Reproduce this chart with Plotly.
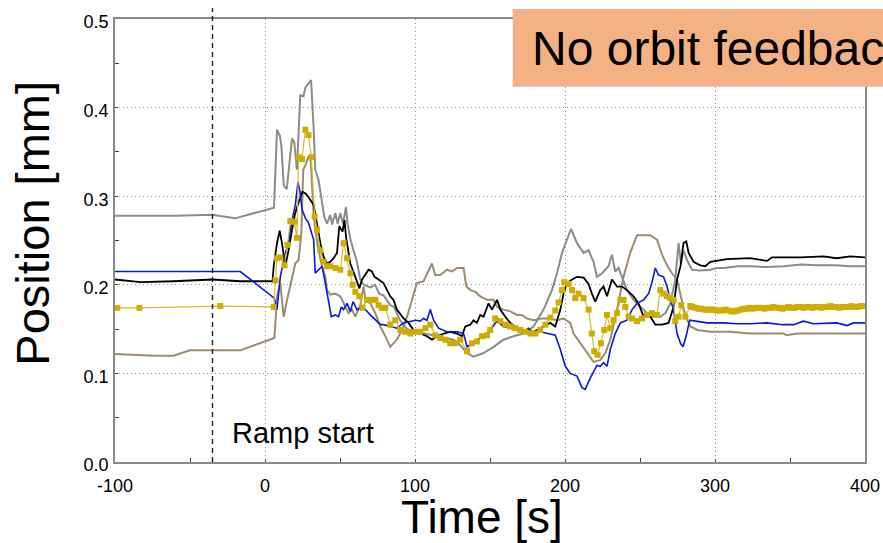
import plotly.graph_objects as go

# ---- orbit position traces, Time [s] vs Position [mm] ----
grey_t = [-100, -60, -35, -20, 6, 8, 10, 11, 12.5, 14.5, 18, 19.5, 21.3, 23.5, 25.7, 27, 29, 30.7,
          32.4, 33.5, 35.7, 38, 39.5, 41.3, 43.5, 44.7, 46.9, 48.4, 50.2, 52, 54, 55, 57, 59, 61.3,
          63.5, 65.7, 70.2, 73.5, 76, 79, 83.5, 86, 90, 94.7, 99, 105, 110, 114.7, 120, 125.7, 130,
          134.7, 139, 145.7, 152.4, 159, 165.7, 172.4, 179, 185.7, 191.3, 194.7, 198, 201.3, 204,
          208, 212.4, 215.7, 219, 221.3, 224.7, 229, 231.3, 233.5, 235.7, 238, 241.3, 245.7, 250.2,
          254.7, 259, 263.5, 266.9, 270.2, 273.5, 275.7, 277.3, 279, 281.3, 284.7, 290, 297, 301,
          306, 315, 324, 335, 346, 357, 368, 380, 390, 400]
grey_y = [0.278, 0.278, 0.279, 0.275, 0.287, 0.375, 0.368, 0.355, 0.312, 0.308, 0.365, 0.361, 0.330,
          0.414, 0.413, 0.423, 0.427, 0.431, 0.378, 0.330, 0.318, 0.292, 0.277, 0.269, 0.279, 0.268,
          0.281, 0.269, 0.281, 0.269, 0.288, 0.269, 0.251, 0.239, 0.226, 0.206, 0.200, 0.197, 0.200,
          0.190, 0.188, 0.177, 0.175, 0.160, 0.150, 0.148, 0.146, 0.144, 0.142, 0.140, 0.138, 0.132,
          0.123, 0.119, 0.123, 0.130, 0.138, 0.142, 0.145, 0.153, 0.172, 0.194, 0.213, 0.236, 0.251,
          0.263, 0.247, 0.236, 0.239, 0.226, 0.209, 0.213, 0.221, 0.234, 0.215, 0.219, 0.209, 0.194,
          0.183, 0.175, 0.168, 0.164, 0.164, 0.168, 0.179, 0.206, 0.247, 0.224, 0.239, 0.228, 0.217,
          0.216, 0.217, 0.219, 0.219, 0.221, 0.221, 0.220, 0.221, 0.223, 0.222, 0.222, 0.221, 0.221]

black_t = [-100, -83, -61, -35, -16.5, 5, 5.8, 8, 9.8, 11.3, 13.5, 15.7, 18, 20, 22.4, 25, 27, 29,
           32.4, 34.7, 36.9, 39, 41.3, 43.5, 45.7, 48, 49.5, 51.7, 53, 54, 56.9, 60.2, 62.9, 64.7,
           66.9, 69, 71.3, 73, 75.7, 79, 83.5, 85.7, 87.9, 92.4, 95.7, 99, 103.5, 108, 111.3, 114.7,
           119.2, 123.5, 128, 131.3, 133.5, 136.9, 139, 141.3, 143.5, 145.7, 149, 151.3, 154.7,
           156.9, 160.2, 163.5, 168, 172.4, 176.9, 181.3, 185.7, 190.2, 193.5, 196.9, 199, 201.3,
           204.7, 208, 212.4, 215.7, 217.9, 220.2, 223.5, 225.7, 228, 231.3, 234.7, 238, 241.3,
           245.7, 249, 252.4, 256.9, 260.2, 264.7, 269, 272.4, 274.7, 277, 279, 280.9, 282.4, 285.7,
           290.2, 293.5, 296.9, 308, 323.5, 334.7, 338, 357, 372.4, 381, 390.2, 400]
black_y = [0.206, 0.203, 0.204, 0.206, 0.204, 0.204, 0.221, 0.247, 0.261, 0.247, 0.221, 0.239, 0.262,
           0.280, 0.293, 0.305, 0.303, 0.299, 0.290, 0.266, 0.247, 0.232, 0.224, 0.226, 0.230, 0.236,
           0.266, 0.260, 0.273, 0.254, 0.224, 0.209, 0.196, 0.206, 0.211, 0.217, 0.215, 0.209, 0.206,
           0.202, 0.187, 0.183, 0.172, 0.162, 0.157, 0.149, 0.145, 0.142, 0.138, 0.142, 0.145, 0.147,
           0.145, 0.142, 0.153, 0.155, 0.160, 0.157, 0.166, 0.164, 0.179, 0.172, 0.183, 0.172, 0.164,
           0.157, 0.151, 0.147, 0.145, 0.149, 0.153, 0.157, 0.153, 0.172, 0.190, 0.202, 0.206, 0.209,
           0.208, 0.201, 0.190, 0.181, 0.194, 0.198, 0.187, 0.206, 0.198, 0.198, 0.194, 0.187, 0.179,
           0.164, 0.164, 0.155, 0.155, 0.157, 0.175, 0.206, 0.221, 0.247, 0.249, 0.236, 0.226, 0.222,
           0.221, 0.226, 0.229, 0.230, 0.227, 0.231, 0.231, 0.232, 0.230, 0.232, 0.231]

blue_t = [-100, -16.5, 6.2, 8, 10.2, 13.5, 15.7, 18, 20.2, 22, 23.5, 24.7, 27, 29, 32.4, 33.5, 35.7,
          38, 40.2, 42.4, 44.2, 46.9, 49, 50.9, 52.4, 54.7, 56.9, 58.7, 61.3, 64.7, 66.9, 70.2, 73.5,
          76.9, 79, 83.5, 87.9, 92.4, 96.9, 100.2, 103.5, 105.7, 108, 110.2, 112.4, 115.7, 121.3,
          128, 132.4, 134.7, 138, 141.3, 145.7, 150.2, 154.7, 159, 163.5, 168, 172.4, 175.7, 179,
          183.5, 188, 193.5, 196.9, 200.2, 203.5, 208, 211.3, 213.5, 216.9, 221.3, 223.5, 225.7, 228,
          230.2, 233.5, 236.9, 241.3, 244.7, 248, 252.4, 255.7, 257.9, 260.2, 262.4, 265.7, 268,
          270.2, 272.4, 274.7, 277, 278.7, 280.9, 283.1, 286.9, 294.7, 305.7, 314.7, 323.5, 334.7,
          345, 352.4, 359, 365.7, 381.3, 388, 392.4, 400]
blue_y = [0.215, 0.215, 0.185, 0.172, 0.209, 0.236, 0.247, 0.273, 0.290, 0.316, 0.303, 0.285, 0.275,
          0.270, 0.251, 0.213, 0.217, 0.221, 0.202, 0.179, 0.164, 0.166, 0.164, 0.175, 0.172, 0.179,
          0.170, 0.181, 0.172, 0.175, 0.172, 0.166, 0.160, 0.155, 0.155, 0.153, 0.151, 0.157, 0.159,
          0.160, 0.159, 0.162, 0.160, 0.172, 0.160, 0.151, 0.147, 0.147, 0.145, 0.130, 0.134, 0.138,
          0.142, 0.149, 0.159, 0.153, 0.151, 0.149, 0.147, 0.151, 0.145, 0.147, 0.145, 0.143, 0.127,
          0.108, 0.100, 0.097, 0.084, 0.082, 0.095, 0.109, 0.108, 0.112, 0.108, 0.127, 0.145, 0.157,
          0.160, 0.172, 0.179, 0.183, 0.190, 0.202, 0.219, 0.211, 0.209, 0.198, 0.183, 0.172, 0.145,
          0.134, 0.130, 0.143, 0.160, 0.159, 0.157, 0.157, 0.156, 0.156, 0.157, 0.155, 0.155, 0.159,
          0.156, 0.157, 0.154, 0.157, 0.157]

brown_t = [-100, -74, -61, -50, -16.5, 6.2, 7.3, 8, 10.2, 12.4, 14.7, 18, 20.2, 22.4, 24.2, 25.5, 27,
           29, 30.5, 32.4, 33.5, 35.7, 38, 40.2, 41.3, 43.5, 46.9, 50.2, 53.5, 55.7, 58, 60.2, 63.5,
           65, 65.7, 67, 70.2, 73.5, 76.9, 80.2, 83.5, 87.9, 91.3, 94.7, 98, 101.3, 105.7, 109, 111.3,
           113.5, 116.9, 121.3, 124.7, 128, 132.4, 134.2, 136.9, 140.2, 143.5, 148, 152.4, 154.7, 159,
           163.5, 168, 171.3, 174.7, 179, 184.7, 190.2, 194.7, 199, 203.5, 205.7, 210.2, 214.7, 219,
           223.5, 226.9, 230.2, 234.7, 239, 243.5, 248, 252.4, 256.9, 261.3, 264.7, 268, 271.3, 274.7,
           277, 279.2, 281.5, 283.7, 288.2, 297, 310.4, 323.5, 345.7, 347.5, 355, 375, 400]
brown_y = [0.122, 0.120, 0.120, 0.126, 0.126, 0.140, 0.166, 0.187, 0.202, 0.164, 0.183, 0.206, 0.224,
           0.228, 0.258, 0.330, 0.335, 0.345, 0.340, 0.280, 0.262, 0.239, 0.221, 0.209, 0.194, 0.189,
           0.190, 0.187, 0.175, 0.168, 0.172, 0.164, 0.177, 0.190, 0.198, 0.183, 0.179, 0.168, 0.153,
           0.142, 0.130, 0.138, 0.149, 0.164, 0.183, 0.202, 0.204, 0.217, 0.224, 0.211, 0.211, 0.217,
           0.215, 0.219, 0.219, 0.198, 0.194, 0.192, 0.187, 0.183, 0.183, 0.175, 0.172, 0.170, 0.166,
           0.166, 0.162, 0.160, 0.162, 0.162, 0.160, 0.162, 0.157, 0.145, 0.134, 0.123, 0.113, 0.115,
           0.123, 0.138, 0.172, 0.209, 0.236, 0.256, 0.256, 0.256, 0.251, 0.234, 0.222, 0.213, 0.206,
           0.190, 0.172, 0.160, 0.153, 0.149, 0.147, 0.147, 0.145, 0.145, 0.143, 0.145, 0.145, 0.145]

gold_t = [-98.5, -83.7, -29.8, 5.8, 7.0, 8.0, 10.2, 13.0, 15.0, 16.9, 19.5, 21.3, 22.4, 24.7, 26.9,
          29, 30.9, 33.1, 34.7, 36.9, 39, 41.3, 43.5, 46.9, 50.2, 52.4, 54.7, 56.9, 58.4, 60.2, 62.9,
          65.0, 68, 70.9, 73.5, 75.7, 77.9, 80.2, 83.5, 86.9, 90.2, 93.5, 96.9, 100.2, 103.5, 106.9,
          110.2, 113.5, 116.9, 120.2, 123.5, 126.9, 130.2, 134.7, 138, 141.3, 144.7, 148, 150.2,
          153.5, 156.9, 160.2, 163.5, 166.9, 170.2, 173.5, 176.9, 180.2, 183.5, 186.9, 190.2, 193.5,
          195.7, 198, 199.5, 202.4, 204.7, 206.9, 209, 212.4, 215.7, 217.9, 219.5, 221.7, 224, 226.2,
          228, 230.2, 232.4, 234.7, 236.9, 239, 240.2, 242.4, 244.7, 248, 251.3, 254.7, 258, 261.3,
          263.5, 265.7, 268, 270.2, 272.4, 273.5, 275.7, 277.5, 280.2, 283.5,
          285, 287, 289, 291, 293, 295, 297, 299, 301, 303, 305, 307, 309, 311, 313, 315, 317, 319,
          321, 323, 325, 327, 329, 331, 333, 335, 337, 339, 341, 343, 345, 347, 349, 351, 353, 355,
          357, 359, 361, 363, 365, 367, 369, 371, 373, 375, 377, 379, 381, 383, 385, 387, 389, 391,
          393, 395, 397, 399]
gold_y = [0.174, 0.174, 0.176, 0.175, 0.205, 0.230, 0.231, 0.222, 0.245, 0.272, 0.271, 0.253, 0.344,
          0.342, 0.375, 0.369, 0.344, 0.277, 0.262, 0.239, 0.226, 0.221, 0.221, 0.219, 0.217, 0.247,
          0.230, 0.213, 0.200, 0.192, 0.187, 0.174, 0.183, 0.183, 0.183, 0.177, 0.174, 0.174, 0.155,
          0.160, 0.149, 0.147, 0.145, 0.147, 0.147, 0.151, 0.155, 0.143, 0.140, 0.138, 0.134, 0.134,
          0.138, 0.125, 0.134, 0.136, 0.142, 0.143, 0.149, 0.162, 0.159, 0.155, 0.153, 0.151, 0.149,
          0.147, 0.145, 0.145, 0.149, 0.155, 0.163, 0.171, 0.180, 0.194, 0.203, 0.201, 0.194, 0.185,
          0.190, 0.185, 0.172, 0.145, 0.125, 0.121, 0.134, 0.149, 0.166, 0.151, 0.160, 0.168, 0.183,
          0.183, 0.175, 0.164, 0.162, 0.159, 0.162, 0.166, 0.168, 0.166, 0.194, 0.190, 0.187, 0.185,
          0.183, 0.159, 0.164, 0.177, 0.164, 0.176,
          0.175, 0.174, 0.173, 0.173, 0.172, 0.172,
          0.172, 0.172, 0.171, 0.171, 0.171, 0.172, 0.171, 0.170,
          0.170, 0.171, 0.172, 0.173, 0.173, 0.174, 0.173, 0.174, 0.174,
          0.174, 0.173, 0.174, 0.174, 0.175, 0.174, 0.174, 0.173, 0.174,
          0.175, 0.174, 0.174, 0.175, 0.175, 0.174, 0.175, 0.175, 0.174,
          0.175, 0.175, 0.174, 0.175, 0.175, 0.176, 0.175, 0.175, 0.174,
          0.175, 0.175, 0.175, 0.176, 0.175, 0.175, 0.176, 0.176]

ramp_start_t = -35
x_ticks = [-100, 0, 100, 200, 300, 400]
y_ticks = [0.0, 0.1, 0.2, 0.3, 0.4, 0.5]

FONT = "Liberation Sans, Arial, Helvetica, sans-serif"
AXIS_GREY = "#8a8a8a"

fig = go.Figure()

series = [
    (brown_t, brown_y, "#9d8c74", 2.0),
    (grey_t, grey_y, "#8c8c8c", 2.0),
    (black_t, black_y, "#000000", 1.8),
    (blue_t, blue_y, "#0a1ad8", 1.6),
]
for t, y, color, width in series:
    fig.add_trace(go.Scatter(x=t, y=y, mode="lines",
                             line=dict(color=color, width=width),
                             hoverinfo="skip", showlegend=False))

fig.add_trace(go.Scatter(x=gold_t, y=gold_y, mode="lines+markers",
                         line=dict(color="#d8bb2a", width=1.2),
                         marker=dict(symbol="square", size=6, color="#cfac00",
                                     line=dict(width=0)),
                         hoverinfo="skip", showlegend=False))

axis_common = dict(
    showline=True, linecolor=AXIS_GREY, linewidth=1.5, mirror=True,
    showgrid=True, gridcolor="#8a8a8a", gridwidth=1, griddash="1px,3px",
    zeroline=False, ticks="inside", ticklen=3, tickcolor="#444",
    tickfont=dict(family=FONT, size=18, color="#000"),
)

fig.update_xaxes(range=[-100, 400], tickvals=x_ticks,
                 ticktext=[str(v) for v in x_ticks],
                 ticklabelstandoff=7,
                 minor=dict(ticks="inside", ticklen=4, tickcolor="#444",
                            tickvals=[-50, 50, 150, 250, 350], showgrid=False),
                 **axis_common)
fig.update_yaxes(range=[0, 0.5], tickvals=y_ticks,
                 ticktext=[f"{v:.1f}" for v in y_ticks],
                 ticklabelshift=3, ticklabelstandoff=1,
                 minor=dict(ticks="inside", ticklen=4, tickcolor="#444",
                            tickvals=[0.05, 0.15, 0.25, 0.35, 0.45], showgrid=False),
                 **axis_common)

# ramp start marker
fig.add_shape(type="line", xref="x", yref="paper", x0=ramp_start_t, x1=ramp_start_t,
              y0=0, y1=1.025, line=dict(color="#222", width=1.4, dash="5px,4px"))

# banner
fig.add_shape(type="rect", xref="paper", yref="paper", x0=0.5303, x1=1.08,
              y0=0.8472, y1=1.0226, fillcolor="#f4b183", line=dict(width=0), layer="above")

fig.update_layout(
    width=883, height=543,
    margin=dict(l=115, r=18, t=19, b=81, autoexpand=False),
    paper_bgcolor="white", plot_bgcolor="white",
    font=dict(family=FONT, color="#000"),
    annotations=[
        dict(text="No orbit feedback", xref="paper", yref="paper", x=0.5527, y=0.9345,
             xanchor="left", yanchor="middle", showarrow=False,
             font=dict(family=FONT, size=48, color="#000")),
        dict(text="Position [mm]", xref="paper", yref="paper", x=-0.1093, y=0.538,
             xanchor="center", yanchor="middle", textangle=-90, showarrow=False,
             font=dict(family=FONT, size=47, color="#000")),
        dict(text="Time [s]", xref="paper", yref="paper", x=0.4887, y=-0.124,
             xanchor="center", yanchor="middle", showarrow=False,
             font=dict(family=FONT, size=46, color="#000")),
        dict(text="Ramp start", xref="paper", yref="paper", x=0.1533, y=0.0655,
             xanchor="left", yanchor="middle", showarrow=False,
             font=dict(family=FONT, size=29, color="#000")),
    ],
)

fig.write_html("out.html")
